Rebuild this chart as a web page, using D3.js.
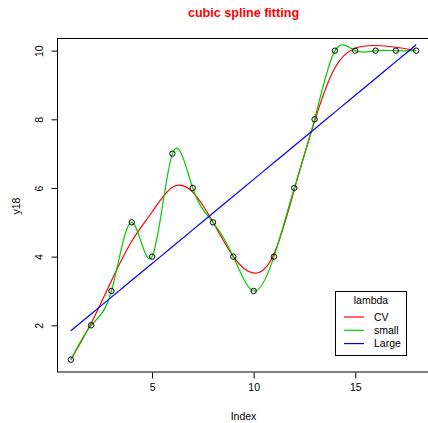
<!DOCTYPE html>
<html><head><meta charset="utf-8">
<script src="https://cdn.jsdelivr.net/npm/d3@7"></script>
<style>body{margin:0;background:#fff;}svg{display:block;font-family:"Liberation Sans",Arial,sans-serif;}</style>
</head><body>
<svg id="chart" width="428" height="423"></svg>
<script>
const index = [1,2,3,4,5,6,7,8,9,10,11,12,13,14,15,16,17,18];
const y18 = [1,2,3,5,4,7,6,5,4,3,4,6,8,10,10,10,10,10];
const fitCV = [1.0,2.06,3.3,4.45,5.3,6.02,5.88,5.0,4.0,3.52,4.08,5.95,7.95,9.5,10.07,10.15,10.1,10.0];
const fitSmall = [1,2,3,5,4,7,6,5,4,3,4,6,8,10,10,10,10,10];
const fitLarge = [1.84,2.33,2.82,3.31,3.8,4.29,4.78,5.27,5.76,6.25,6.74,7.23,7.72,8.21,8.7,9.19,9.68,10.17];
const xTicks = [5,10,15];
const yTicks = [2,4,6,8,10];
const legendLabels = ["CV","small","Large"];
const colors = ["#FF0000","#00CD00","#0000FF"];

const svg = d3.select("#chart");
const x = d3.scaleLinear().domain([0.32,18.68]).range([57,430]);
const y = d3.scaleLinear().domain([0.64,10.36]).range([372,38.3]);

// title
svg.append("text").attr("x",243.5).attr("y",16.5).attr("text-anchor","middle")
  .attr("font-weight","bold").attr("font-size","12.6px").attr("fill","#FF0000").text("cubic spline fitting");

// box
svg.append("rect").attr("x",57.5).attr("y",38.5).attr("width",380).attr("height",333.5)
  .attr("fill","none").attr("stroke","#000").attr("stroke-width",1);

// x axis
const xa = svg.append("g").attr("transform","translate(0,372.5)")
  .call(d3.axisBottom(x).tickValues(xTicks).tickSize(6).tickPadding(5).tickFormat(d3.format("d")));
xa.select(".domain").remove();
xa.selectAll("text").attr("font-size","10.5px").attr("font-family","Liberation Sans, Arial, sans-serif").attr("fill","#000");
xa.selectAll("line").attr("stroke","#000");

// y axis
const ya = svg.append("g").attr("transform","translate(57.5,0)")
  .call(d3.axisLeft(y).tickValues(yTicks).tickSize(6).tickFormat(d3.format("d")));
ya.select(".domain").remove();
ya.selectAll("line").attr("stroke","#000");
ya.selectAll("text").remove();
ya.selectAll(".tick").append("text")
  .attr("transform","translate(-15,0) rotate(-90)")
  .attr("text-anchor","middle").attr("fill","#000")
  .attr("font-size","10.5px").attr("font-family","Liberation Sans, Arial, sans-serif")
  .text(d=>d);

// axis labels
svg.append("text").attr("x",243.5).attr("y",420).attr("text-anchor","middle")
  .attr("font-size","10.5px").text("Index");
svg.append("text").attr("transform","translate(20,206) rotate(-90)").attr("text-anchor","middle")
  .attr("font-size","10.5px").text("y18");

// curves
const line = d3.line().x((d,i)=>x(index[i])).y(d=>y(d)).curve(d3.curveNatural);
[fitCV, fitSmall, fitLarge].forEach((s,k)=>{
  svg.append("path").datum(s).attr("d",line).attr("fill","none")
    .attr("stroke",colors[k]).attr("stroke-width",1.2);
});

// points
svg.append("g").selectAll("circle").data(y18).join("circle")
  .attr("cx",(d,i)=>x(index[i])).attr("cy",d=>y(d)).attr("r",2.7)
  .attr("fill","none").attr("stroke","#000").attr("stroke-width",1);

// legend
const lg = svg.append("g");
lg.append("rect").attr("x",335.5).attr("y",291.5).attr("width",71).attr("height",64)
  .attr("fill","#fff").attr("stroke","#000").attr("stroke-width",1);
lg.append("text").attr("x",371).attr("y",304).attr("text-anchor","middle").attr("font-size","10.5px").text("lambda");
legendLabels.forEach((t,k)=>{
  const yy = 317 + k*13.3;
  lg.append("line").attr("x1",344).attr("x2",364).attr("y1",yy).attr("y2",yy)
    .attr("stroke",colors[k]).attr("stroke-width",1.2);
  lg.append("text").attr("x",374).attr("y",yy+3.8).attr("font-size","10.5px").text(t);
});
</script>
</body></html>
